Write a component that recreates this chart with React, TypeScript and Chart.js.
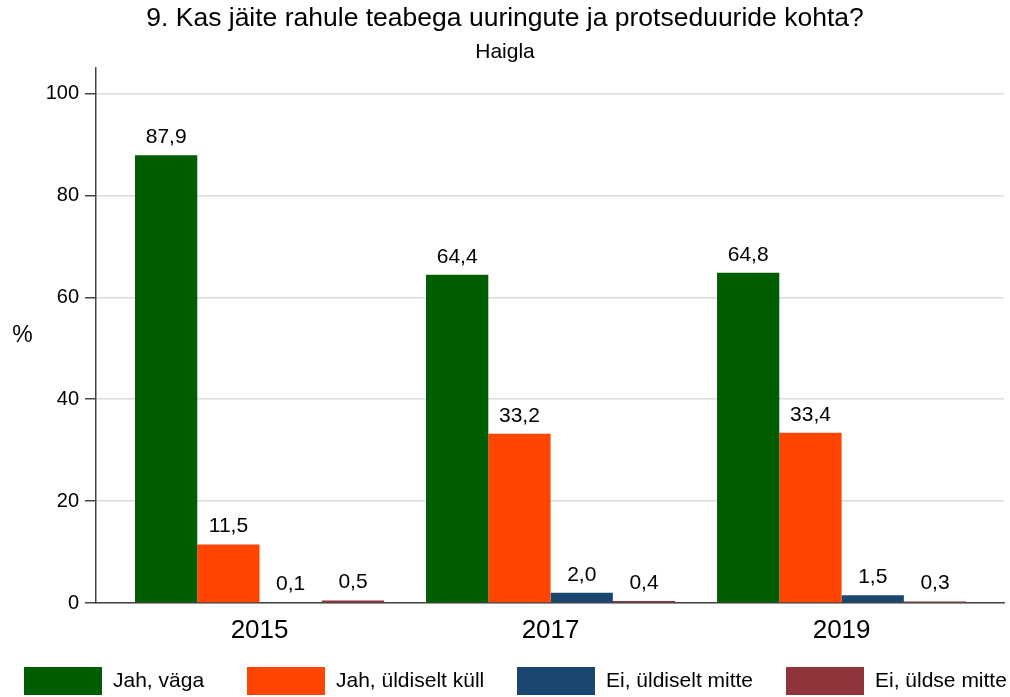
import { useEffect, useRef } from "react";
import { Chart, registerables } from "chart.js";

Chart.register(...registerables);

const titleText = "9. Kas jäite rahule teabega uuringute ja protseduuride kohta?";
const subtitleText = "Haigla";
const yAxisLabel = "%";
const years = ["2015", "2017", "2019"];
const seriesNames = ["Jah, väga", "Jah, üldiselt küll", "Ei, üldiselt mitte", "Ei, üldse mitte"];
const jahVaga = [87.9, 64.4, 64.8];
const jahYldiseltKull = [11.5, 33.2, 33.4];
const eiYldiseltMitte = [0.1, 2.0, 1.5];
const eiYldseMitte = [0.5, 0.4, 0.3];
const seriesColors = ["#005e00", "#ff4500", "#1a476f", "#90353b"];
const yTicks = [0, 20, 40, 60, 80, 100];

const FONT = "'Liberation Sans', Arial, sans-serif";
const W = 1010;
const H = 697;

const fmt = (v: number) => v.toFixed(1).replace(".", ",");

export default function App() {
  const ref = useRef<HTMLCanvasElement | null>(null);

  useEffect(() => {
    document.body.style.margin = "0";
    const canvas = ref.current;
    if (!canvas) return;
    const allSeries = [jahVaga, jahYldiseltKull, eiYldiseltMitte, eiYldseMitte];

    const decor = {
      id: "decor",
      afterDatasetsDraw(chart: any) {
        const ctx = chart.ctx;
        ctx.save();
        ctx.fillStyle = "#000";
        ctx.font = `21px ${FONT}`;
        ctx.textAlign = "center";
        ctx.textBaseline = "alphabetic";
        chart.data.datasets.forEach((ds: any, di: number) => {
          const meta = chart.getDatasetMeta(di);
          meta.data.forEach((bar: any, i: number) => {
            const v = allSeries[di][i];
            ctx.fillText(fmt(v), bar.x, bar.y - 12);
          });
        });
        ctx.restore();
      },
      afterDraw(chart: any) {
        const ctx = chart.ctx;
        const area = chart.chartArea;
        ctx.save();
        ctx.fillStyle = "#000";
        ctx.textAlign = "center";
        ctx.textBaseline = "middle";
        ctx.font = `26.5px ${FONT}`;
        ctx.fillText(titleText, W / 2, 19);
        ctx.font = `21px ${FONT}`;
        ctx.fillText(subtitleText, W / 2, 52);
        ctx.font = `23px ${FONT}`;
        ctx.fillText(yAxisLabel, 22.5, (area.top + area.bottom) / 2);

        // legend
        const boxX = [24, 247, 517, 786].map((x) => (x / W) * chart.width);
        const boxW = 78;
        const boxTop = 667;
        const boxH = 28;
        ctx.font = `21px ${FONT}`;
        ctx.textAlign = "left";
        seriesNames.forEach((name, i) => {
          ctx.fillStyle = seriesColors[i];
          ctx.fillRect(boxX[i], boxTop, boxW, boxH);
          ctx.fillStyle = "#000";
          ctx.fillText(name, boxX[i] + boxW + 11, boxTop + boxH / 2);
        });
        ctx.restore();
      },
    };

    const chart = new Chart(canvas, {
      type: "bar",
      data: {
        datasets: seriesNames.map((name, si) => ({
          label: name,
          data: allSeries[si].map((v, i) => ({ x: i, y: v })),
          backgroundColor: seriesColors[si],
          borderWidth: 0,
          barPercentage: 1,
          categoryPercentage: 0.856,
        })),
      },
      options: {
        responsive: false,
        animation: false,
        events: [],
        layout: { padding: { top: 68, right: 6, bottom: 0, left: 0 } },
        plugins: {
          legend: { display: false },
          title: { display: false },
          tooltip: { enabled: false },
        },
        scales: {
          x: {
            type: "linear",
            offset: false,
            bounds: "data",
            min: -0.562,
            max: 2.558,
            afterBuildTicks: (s: any) => {
              s.ticks = years.map((_, i) => ({ value: i }));
            },
            afterFit: (s: any) => {
              s.height = 94;
            },
            ticks: {
              callback: (v: any) => years[v] ?? "",
              font: { size: 26, family: FONT },
              color: "#000",
              padding: 12,
              maxRotation: 0,
              autoSkip: false,
            },
            grid: { display: false, drawTicks: false, offset: false },
            border: { display: true, color: "#444", width: 1.5 },
          },
          y: {
            min: 0,
            max: 105,
            afterBuildTicks: (s: any) => {
              s.ticks = yTicks.map((v) => ({ value: v }));
            },
            afterFit: (s: any) => {
              s.width = 96;
            },
            ticks: {
              font: { size: 20, family: FONT },
              color: "#000",
              padding: 6,
            },
            grid: {
              color: "#dcdcdc",
              lineWidth: 1.5,
              tickColor: "#444",
              tickLength: 11,
            },
            border: { display: true, color: "#444", width: 1.5 },
          },
        },
      },
      plugins: [decor],
    } as any);

    return () => chart.destroy();
  }, []);

  return (
    <canvas
      ref={ref}
      width={W}
      height={H}
      style={{ display: "block", width: W, height: H }}
    />
  );
}
